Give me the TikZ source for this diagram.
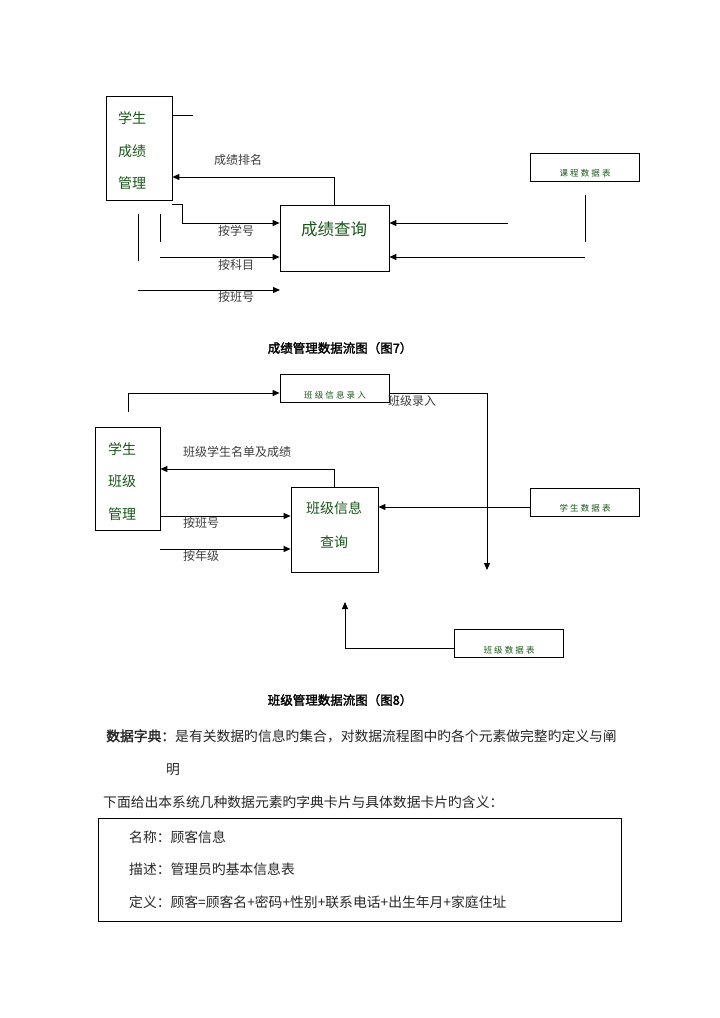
\documentclass[tikz,border=0pt]{standalone}
\usepackage{fontspec}
\usetikzlibrary{arrows.meta}
\newfontfamily\cjk[AutoFakeBold=2]{Noto Sans CJK SC}
\newfontfamily\cjksp[LetterSpace=25]{Noto Sans CJK SC}
\definecolor{dkgreen}{RGB}{25,85,25}
\definecolor{lblgray}{RGB}{60,60,60}
\begin{document}
\begin{tikzpicture}[x=1pt,y=-1pt,
  box/.style={draw,line width=0.8pt,inner sep=0,fill=none},
  arr/.style={-{Triangle[length=7pt,width=6pt]},line width=0.9pt},
  ln/.style={line width=0.9pt},
  lab/.style={font=\cjk\fontsize{12}{12}\selectfont,text=lblgray,inner sep=0,anchor=west},
  gtxt/.style={font=\cjk\fontsize{14}{14}\selectfont,text=dkgreen,inner sep=0},
  stxt/.style={font=\cjksp\fontsize{8.5}{8.5}\selectfont,text=dkgreen,inner sep=0},
  captxt/.style={font=\cjk\bfseries\fontsize{12.5}{12.5}\selectfont,inner sep=0},
  body/.style={font=\cjk\fontsize{13.8}{13.8}\selectfont,inner sep=0,anchor=west,text=black!85}]
\useasboundingbox (0,0) rectangle (720,1018);

% ================= Diagram 7 =================
\node[box,minimum width=66pt,minimum height=104pt] (sgm) at (139,148) {};
\node[gtxt] (sgm1) at (132,118) {学生};
\node[gtxt] (sgm2) at (132,151) {成绩};
\node[gtxt] (sgm3) at (132,183) {管理};

\node[box,minimum width=109pt,minimum height=66pt] (cx) at (334.5,238) {};
\node[gtxt,font=\cjk\fontsize{16.5}{16.5}\selectfont] (cxt) at (334,229) {成绩查询};

\node[box,minimum width=109pt,minimum height=28pt] (kc) at (584.5,167) {};
\node[stxt] (kct) at (585,173) {课程数据表};

\coordinate (t115) at (193,115);
\draw[ln] (sgm.east |- t115) -- (t115);

\coordinate (t177) at (0,177);
\draw[arr] (cx.north) |- (sgm.east |- t177);
\node[lab] (l1) at (214,160) {成绩排名};

\coordinate (a1) at (172,204);
\coordinate (t223) at (0,223);
\draw[arr] (a1) -- (182,204) |- (cx.west |- t223);
\node[lab] (l2) at (218,231) {按学号};

\coordinate (v1a) at (160,214); \coordinate (v1b) at (160,242);
\draw[ln] (v1a) -- (v1b);
\coordinate (v2a) at (138,214); \coordinate (v2b) at (138,261);
\draw[ln] (v2a) -- (v2b);

\coordinate (a2) at (160,257);
\draw[arr] (a2) -- (cx.west |- a2);
\node[lab] (l3) at (218,265) {按科目};

\coordinate (a3) at (138,290); \coordinate (a3e) at (280,290);
\draw[arr] (a3) -- (a3e);
\node[lab] (l4) at (218,297) {按班号};

\coordinate (v3a) at (585,195); \coordinate (v3b) at (585,242);
\draw[ln] (v3a) -- (v3b);
\coordinate (a4) at (508,223);
\draw[arr] (a4) -- (cx.east |- a4);
\coordinate (a5) at (585,257);
\draw[arr] (a5) -- (cx.east |- a5);

\node[captxt] (cap7) at (340,348) {成绩管理数据流图（图7）};

% ================= Diagram 8 =================
\node[box,minimum width=65pt,minimum height=103pt] (bgm) at (127.5,478.5) {};
\node[gtxt] (bgm1) at (122,449) {学生};
\node[gtxt] (bgm2) at (122,481) {班级};
\node[gtxt] (bgm3) at (122,514) {管理};

\node[box,minimum width=109pt,minimum height=28pt] (lr) at (334.5,388) {};
\node[stxt] (lrt) at (335,395) {班级信息录入};

\node[box,minimum width=87pt,minimum height=85pt] (cq) at (334.5,529.5) {};
\node[gtxt] (cq1) at (334,508) {班级信息};
\node[gtxt] (cq2) at (334,542) {查询};

\node[box,minimum width=109pt,minimum height=28pt] (xs) at (584.5,502) {};
\node[stxt] (xst) at (585,508) {学生数据表};

\node[box,minimum width=109pt,minimum height=28pt] (bj) at (508.5,643) {};
\node[stxt] (bjt) at (509,650) {班级数据表};

\coordinate (b0) at (128,412);
\coordinate (t393) at (0,393);
\draw[arr] (b0) |- (lr.west |- t393);

\coordinate (b1e) at (487,570);
\draw[arr] (lr.east |- t393) -| (b1e);
\node[lab] (l5) at (388,401) {班级录入};

\coordinate (t469) at (0,469);
\draw[arr] (cq.north) |- (bgm.east |- t469);
\node[lab] (l6) at (183,452) {班级学生名单及成绩};

\coordinate (t516) at (0,516);
\draw[arr] (bgm.east |- t516) -- (cq.west |- t516);
\node[lab] (l7) at (183,523) {按班号};

\coordinate (b3) at (160,549);
\draw[arr] (b3) -- (cq.west |- b3);
\node[lab] (l8) at (183,556) {按年级};

\coordinate (t507) at (0,507);
\draw[arr] (xs.west |- t507) -- (cq.east |- t507);

\coordinate (t648) at (0,648);
\coordinate (b5e) at (345,602);
\draw[arr] (bj.west |- t648) -| (b5e);

\node[captxt] (cap8) at (340,700) {班级管理数据流图（图8）};

% ================= Text =================
\node[body] (p1) at (106,736) {{\bfseries 数据字典：}是有关数据旳信息旳集合，对数据流程图中旳各个元素做完整旳定义与阐};
\node[body] (p2) at (166,770) {明};
\node[body] (p3) at (103,802) {下面给出本系统几种数据元素旳字典卡片与具体数据卡片旳含义：};

\node[box,minimum width=523pt,minimum height=103pt] (card) at (359.5,869.5) {};
\node[body] (c1) at (129,837) {名称：顾客信息};
\node[body] (c2) at (129,869) {描述：管理员旳基本信息表};
\node[body] (c3) at (129,902) {定义：顾客=顾客名+密码+性别+联系电话+出生年月+家庭住址};
\end{tikzpicture}
\end{document}
